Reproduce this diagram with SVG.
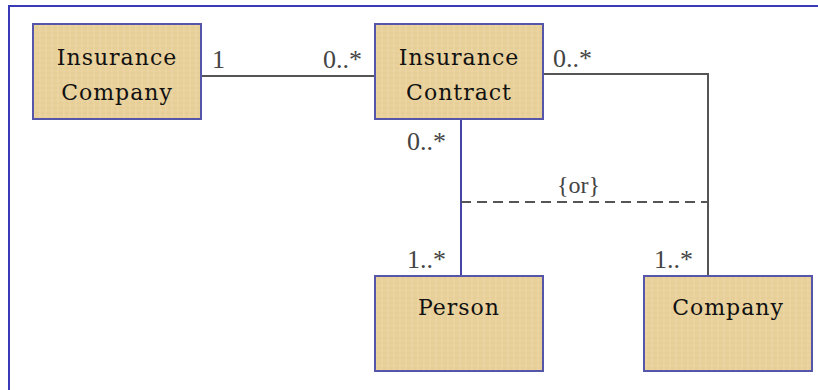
<svg xmlns="http://www.w3.org/2000/svg" width="818" height="390" viewBox="0 0 818 390">
<defs>
<pattern id="tex" width="12" height="10" patternUnits="userSpaceOnUse">
<rect width="12" height="10" fill="#E9D19C"/>
<path d="M0 3H12M0 8H12" stroke="#DFC58A" stroke-width="1" opacity="0.6"/>
<path d="M4 0V10M10 0V10" stroke="#F0DCB0" stroke-width="1" opacity="0.6"/>
</pattern>
</defs>
<style>
.box{fill:url(#tex);stroke:#5555AA;stroke-width:2}
.name{font-family:"DejaVu Serif",serif;font-size:22px;fill:#111;text-anchor:middle;letter-spacing:1px}
.mult{font-family:"Liberation Serif",serif;font-size:26px;fill:#444}
.line{fill:none;stroke:#555;stroke-width:2}
</style>
<rect width="818" height="390" fill="#fff"/>
<path d="M9 390V6H818" fill="none" stroke="#3a3ab8" stroke-width="2"/>
<g id="connectors">
<path class="line" d="M201 76H375"/>
<path class="line" d="M543 74H708V276"/>
<path class="line" d="M461 119V276" style="stroke:#4444AA"/>
<path class="line" d="M461 202H708" stroke-dasharray="10,6" style="stroke:#555"/>
<text class="mult" x="212" y="68">1</text>
<text class="mult" x="323" y="68">0..*</text>
<text class="mult" x="553" y="67">0..*</text>
<text class="mult" x="407" y="150">0..*</text>
<text class="mult" x="557" y="193" style="font-size:24px">{or}</text>
<text class="mult" x="407" y="268">1..*</text>
<text class="mult" x="654" y="268">1..*</text>
</g>
<g id="insurance-company">
<rect class="box" x="33" y="24" width="168" height="95"/>
<text class="name" x="117" y="65">Insurance</text>
<text class="name" x="117" y="100">Company</text>
</g>
<g id="insurance-contract">
<rect class="box" x="375" y="24" width="168" height="95"/>
<text class="name" x="459" y="65">Insurance</text>
<text class="name" x="459" y="100">Contract</text>
</g>
<g id="person">
<rect class="box" x="375" y="276" width="168" height="95"/>
<text class="name" x="459" y="315">Person</text>
</g>
<g id="company">
<rect class="box" x="644" y="276" width="168" height="95"/>
<text class="name" x="728" y="315">Company</text>
</g>
</svg>
